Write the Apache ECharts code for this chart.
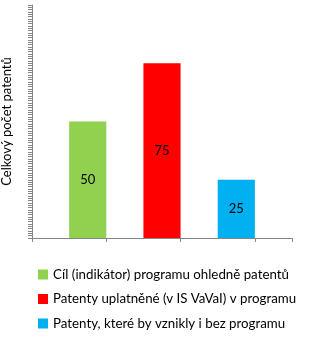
<!DOCTYPE html>
<html><head><meta charset="utf-8">
<script src="https://cdn.jsdelivr.net/npm/echarts@6/dist/echarts.min.js"></script>
<style>html,body{margin:0;padding:0;background:#fff}#c{width:334px;height:342px}</style>
</head><body><div id="c"></div>
<script>
const categories = ['', 'cil', '', 'uplatnene', '', 'bez', ''];
const seriesNames = ['Cíl (indikátor) programu ohledně patentů', 'Patenty uplatněné (v IS VaVaI) v programu', 'Patenty, které by vznikly i bez programu'];
const seriesValues = [50, 75, 25];
const seriesIndex = [1, 3, 5];
const seriesColors = ['#92d050', '#ff0000', '#00b0f0'];
const yAxisTitle = 'Celkový počet patentů';
const FONT = 'Lato';

const series = seriesNames.map((n, i) => {
  const d = categories.map(() => '-');
  d[seriesIndex[i]] = seriesValues[i];
  return {
    name: n, type: 'bar', stack: 's', barWidth: '100%', data: d,
    itemStyle: {color: seriesColors[i]},
    label: {show: true, position: 'inside', color: '#000', fontFamily: FONT, fontSize: 13},
  };
});

const chart = echarts.init(document.getElementById('c'), null, {renderer: 'canvas'});
chart.setOption({
  animation: false,
  grid: {left: 32, right: 42, top: 5, bottom: 104, containLabel: false, outerBoundsMode: 'none'},
  xAxis: {type: 'category', data: categories, boundaryGap: true,
    axisLine: {lineStyle: {color: '#868686', width: 1}},
    axisTick: {show: true, alignWithLabel: false, length: 4, lineStyle: {color: '#868686'}},
    axisLabel: {show: false}},
  yAxis: {type: 'value', min: 0, max: 100, interval: 1,
    name: yAxisTitle, nameLocation: 'middle', nameGap: 19,
    nameTextStyle: {fontFamily: FONT, fontSize: 13, color: '#000'},
    axisLine: {show: true, lineStyle: {color: '#868686', width: 1}},
    axisTick: {show: true, length: 4, lineStyle: {color: '#868686'}},
    axisLabel: {show: false}, splitLine: {show: false}},
  legend: {orient: 'vertical', left: 33, top: 263, itemWidth: 10, itemHeight: 10, itemGap: 11.5,
    icon: 'rect', textStyle: {fontFamily: FONT, fontSize: 13.3, color: '#000'},
    data: seriesNames},
  series: series
});
</script></body></html>
